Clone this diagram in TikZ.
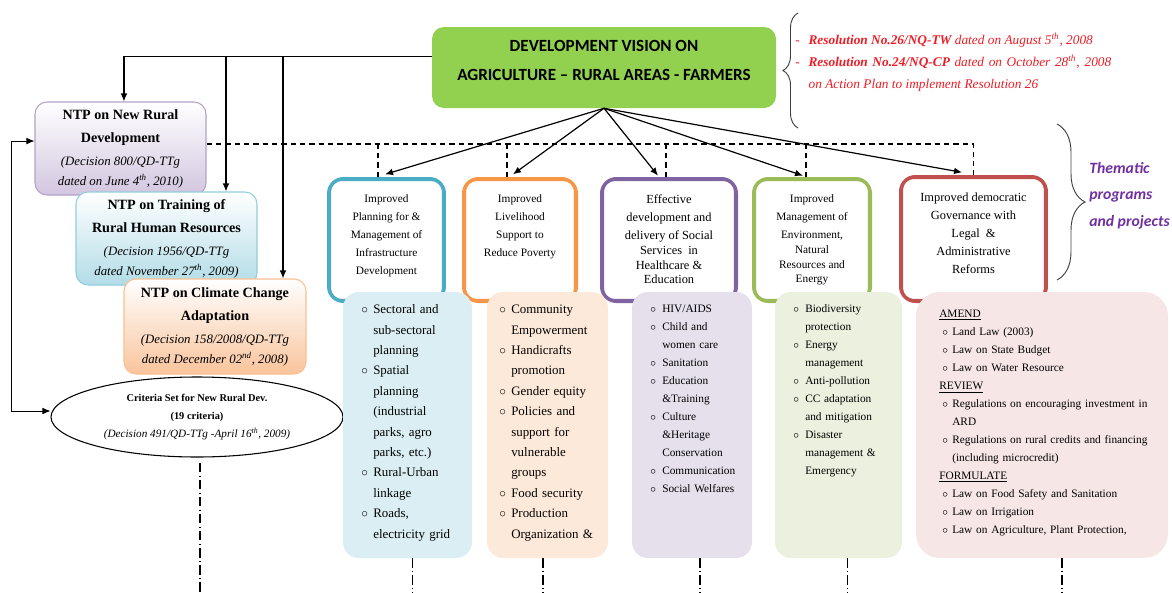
\documentclass[tikz,border=0pt]{standalone}
\usepackage{fontspec}
\setmainfont{Liberation Serif}
\newfontfamily\calibri{Carlito}
\usepackage{enumitem}
\usetikzlibrary{positioning,shapes.geometric,arrows.meta,decorations.pathreplacing}

\definecolor{visiongreen}{HTML}{92D050}
\definecolor{resred}{HTML}{EE1C25}
\definecolor{thempurple}{HTML}{7030A0}
\definecolor{infrablue}{HTML}{4BACC6}
\definecolor{liveorange}{HTML}{F79646}
\definecolor{socialpurple}{HTML}{8064A2}
\definecolor{envgreen}{HTML}{9BBB59}
\definecolor{govred}{HTML}{C0504D}
\definecolor{infrafill}{HTML}{DAEEF3}
\definecolor{livefill}{HTML}{FDE9D9}
\definecolor{socialfill}{HTML}{E5E0EC}
\definecolor{envfill}{HTML}{EBF1DE}
\definecolor{govfill}{HTML}{F7E6E6}
\definecolor{ruralline}{HTML}{B3A2C7}
\definecolor{ruralfill}{HTML}{D2C6E0}
\definecolor{trainline}{HTML}{92CDDC}
\definecolor{trainfill}{HTML}{B2DCE7}
\definecolor{climline}{HTML}{FAC090}
\definecolor{climfill}{HTML}{F9C49C}

\setlist[itemize]{nosep, label=$\circ$, leftmargin=9pt, labelwidth=5pt, labelsep=4pt, align=left}

\newcommand{\ntpnote}[1]{{\fontsize{9.6}{17.25}\selectfont\mdseries\itshape #1}}

\tikzset{
  ntpbox/.style 2 args={rounded corners=9pt, draw=#1, line width=0.8pt, top color=white, bottom color=#2,
    minimum height=69.75pt, align=center, inner sep=2pt, font=\fontsize{10.6}{17.25}\selectfont\bfseries},
  thembox/.style={rounded corners=11pt, draw=#1, line width=2.6pt, fill=white, minimum height=91.9pt},
  themtext/.style={anchor=north, align=center, inner sep=0pt, font=\fontsize{8.5}{13.5}\selectfont},
  bulbox/.style={rounded corners=12pt, fill=#1, minimum height=199.5pt},
  bultext/.style={anchor=north west, align=left, inner sep=0pt},
}

\begin{document}
\begin{tikzpicture}[x=0.75pt, y=-0.75pt,
    arr/.style={line width=0.9pt, -{Latex[length=6pt,width=5pt]}},
    dashline/.style={line width=0.9pt, dash pattern=on 4pt off 3pt},
    dashdot/.style={line width=0.8pt, dash pattern=on 7pt off 2.5pt on 0.8pt off 2.5pt},
    bracestyle/.style={draw=black!75, line width=0.7pt, decorate}]

  \useasboundingbox (0,0) rectangle (1172,593);

  % vision and resolutions
  \node[rounded corners=9pt, fill=visiongreen, minimum width=258pt, minimum height=60.75pt] (vision) at (604,67.5) {};
  \node[align=center, font=\calibri\bfseries\fontsize{12.8}{21.75}\selectfont] (visiontext) at (604,60)
    {DEVELOPMENT VISION ON\\AGRICULTURE – RURAL AREAS - FARMERS};

  \draw[bracestyle, decoration={brace, amplitude=11.25pt}] (798,128) -- (798,13);
  \node[anchor=north west, align=left, inner sep=0pt, text=resred,
        font=\fontsize{10}{16.5}\selectfont\itshape] (res) at (795,33)
    {\makebox[10pt][l]{-}\textbf{Resolution No.26/NQ-TW} dated on August 5\textsuperscript{th}, 2008\\
     \makebox[237pt][s]{\makebox[10pt][l]{-}\textbf{Resolution No.24/NQ-CP} dated on October 28\textsuperscript{th}, 2008}\\
     \hspace*{10pt}on Action Plan to implement Resolution 26};

  \draw[bracestyle, decoration={brace, amplitude=21pt}] (1057,124) -- (1057,280);
  \node[anchor=north west, align=left, inner sep=0pt, text=thempurple,
        font=\calibri\bfseries\itshape\fontsize{11.8}{20}\selectfont] (thematic) at (1089,162)
    {Thematic\\programs\\and projects};

  % national target programs
  \node[ntpbox={ruralline}{ruralfill}, minimum width=128.25pt] (ntp1) at (120.5,148.5)
    {NTP on New Rural\\ Development\\ \ntpnote{(Decision 800/QD-TTg}\\[-2.25pt]
     \ntpnote{dated on June 4\textsuperscript{th}, 2010)}};
  \node[ntpbox={trainline}{trainfill}, minimum width=135.75pt] (ntp2) at (166.5,238.5)
    {NTP on Training of\\ Rural Human Resources\\ \ntpnote{(Decision 1956/QD-TTg}\\[-2.25pt]
     \ntpnote{dated November 27\textsuperscript{th}, 2009)}};
  \node[ntpbox={climline}{climfill}, minimum width=136.5pt, minimum height=71.25pt] (ntp3) at (215,326.5)
    {NTP on Climate Change\\ Adaptation\\ \ntpnote{(Decision 158/2008/QD-TTg}\\[-2.25pt]
     \ntpnote{dated December 02\textsuperscript{nd}, 2008)}};

  \node[ellipse, draw, line width=0.8pt, fill=white, minimum width=219pt, minimum height=60pt,
        inner sep=0pt, align=center, font=\fontsize{7.8}{13.5}\selectfont] (crit) at (197,417)
    {\textbf{Criteria Set for New Rural Dev.}\\ \textbf{(19 criteria)}\\
     {\fontsize{8.4}{13.5}\selectfont\itshape (Decision 491/QD-TTg -April 16\textsuperscript{th}, 2009)}};

  % thematic boxes
  \node[thembox=infrablue, minimum width=86.6pt] (t1) at (386.5,240) {};
  \node[thembox=liveorange, minimum width=84.4pt] (t2) at (520,240) {};
  \node[thembox=socialpurple, minimum width=100.9pt] (t3) at (669,240) {};
  \node[thembox=envgreen, minimum width=87.4pt] (t4) at (812,240) {};
  \node[thembox=govred, minimum width=109.1pt, minimum height=93.4pt] (t5) at (973.5,239) {};

  \draw[infrablue, line width=0.7pt, rounded corners=8pt] ([shift={(2.7pt,-2.7pt)}]t1.north west) rectangle ([shift={(-2.7pt,2.7pt)}]t1.south east);
  \draw[liveorange, line width=0.7pt, rounded corners=8pt] ([shift={(2.7pt,-2.7pt)}]t2.north west) rectangle ([shift={(-2.7pt,2.7pt)}]t2.south east);
  \draw[socialpurple, line width=0.7pt, rounded corners=8pt] ([shift={(2.7pt,-2.7pt)}]t3.north west) rectangle ([shift={(-2.7pt,2.7pt)}]t3.south east);
  \draw[envgreen, line width=0.7pt, rounded corners=8pt] ([shift={(2.7pt,-2.7pt)}]t4.north west) rectangle ([shift={(-2.7pt,2.7pt)}]t4.south east);
  \draw[govred, line width=0.7pt, rounded corners=8pt] ([shift={(2.7pt,-2.7pt)}]t5.north west) rectangle ([shift={(-2.7pt,2.7pt)}]t5.south east);

  \node[themtext] (tt1) at ([yshift=-13.3pt]t1.north) {Improved\\Planning for \&\\Management of\\Infrastructure\\Development};
  \node[themtext] (tt2) at ([yshift=-13.3pt]t2.north) {Improved\\Livelihood\\Support to\\Reduce Poverty};
  \node[themtext, font=\fontsize{9.3}{13.5}\selectfont] (tt3) at ([yshift=-13.3pt]t3.north)
    {Effective\\development and\\delivery of Social\\[-2.5pt]Services\ \ in\\[-2.5pt]Healthcare \&\\[-2.5pt]Education};
  \node[themtext] (tt4) at ([yshift=-13.3pt]t4.north)
    {Improved\\Management of\\Environment,\\[-2.5pt]Natural\\[-2pt]Resources and\\[-3pt]Energy};
  \node[themtext, font=\fontsize{9.3}{13.5}\selectfont] (tt5) at ([yshift=-13.3pt]t5.north)
    {Improved democratic\\Governance with\\Legal\ \ \&\\Administrative\\Reforms};

  % activity boxes
  \node[bulbox=infrafill, minimum width=96.75pt] (b1) at (407.5,425) {};
  \node[bulbox=livefill, minimum width=90.75pt] (b2) at (547.5,425) {};
  \node[bulbox=socialfill, minimum width=90pt] (b3) at (692,425) {};
  \node[bulbox=envfill, minimum width=95.25pt] (b4) at (838.5,425) {};
  \node[bulbox=govfill, minimum width=189pt, rounded corners=18pt] (b5) at (1042,425) {};

  \node[bultext, text width=82pt, font=\fontsize{9.7}{15.3}\selectfont] (l1) at (361,293) {%
    \begin{itemize}
      \item Sectoral and\newline sub-sectoral\newline planning
      \item Spatial\newline planning\newline (industrial\newline parks, agro\newline parks, etc.)
      \item Rural-Urban\newline linkage
      \item Roads,\newline electricity grid
    \end{itemize}};
  \node[bultext, text width=82pt, font=\fontsize{9.7}{15.3}\selectfont] (l2) at (499,293) {%
    \begin{itemize}
      \item Community\newline Empowerment
      \item Handicrafts\newline promotion
      \item Gender equity
      \item Policies and\newline support for\newline vulnerable\newline groups
      \item Food security
      \item Production\newline Organization \&
    \end{itemize}};
  \node[bultext, text width=80pt, font=\fontsize{8.5}{13.5}\selectfont] (l3) at (650,294) {%
    \begin{itemize}
      \item HIV/AIDS
      \item Child and\newline women care
      \item Sanitation
      \item Education\newline \&Training
      \item Culture\newline \&Heritage\newline Conservation
      \item Communication
      \item Social Welfares
    \end{itemize}};
  \node[bultext, text width=80pt, font=\fontsize{8.5}{13.5}\selectfont] (l4) at (793,294) {%
    \begin{itemize}
      \item Biodiversity\newline protection
      \item Energy\newline management
      \item Anti-pollution
      \item CC adaptation\newline and mitigation
      \item Disaster\newline management \&\newline Emergency
    \end{itemize}};
  \node[bultext, text width=165pt, font=\fontsize{8.5}{13.5}\selectfont] (l5) at (939,310) {%
    \underline{AMEND}
    \begin{itemize}[leftmargin=9.75pt, labelsep=2.5pt]
      \item Land Law (2003)
      \item Law on State Budget
      \item Law on Water Resource
    \end{itemize}
    \underline{REVIEW}
    \begin{itemize}[leftmargin=9.75pt, labelsep=2.5pt]
      \item Regulations on encouraging investment in\newline ARD
      \item Regulations on rural credits and financing\newline (including microcredit)
    \end{itemize}
    \underline{FORMULATE}
    \begin{itemize}[leftmargin=9.75pt, labelsep=2.5pt]
      \item Law on Food Safety and Sanitation
      \item Law on Irrigation
      \item Law on Agriculture, Plant Protection,
    \end{itemize}};

  % connectors
  \coordinate (top) at ([yshift=8pt]vision.west);
  \coordinate (dash) at ([yshift=3.4pt]ntp1.east);
  \coordinate (bot) at (0,593);

  \draw[arr] (top) -| ([xshift=2.6pt]ntp1.north);
  \draw[arr] (top) -| ([xshift=44.6pt]ntp2.north);
  \draw[arr] (top) -| ([xshift=51pt]ntp3.north);

  \draw[line width=0.6pt, {Latex[length=6pt,width=5pt]}-{Latex[length=6pt,width=5pt]}]
    ([yshift=5.6pt]ntp1.west) -- ++(-17pt,0) |- ([yshift=4.5pt]crit.west);

  \draw[dashline] (dash) -| (t5.north);
  \draw[dashline] ([xshift=-6.4pt]t1.north) -- ([xshift=-6.4pt]t1.north |- dash);
  \draw[dashline] ([xshift=-9.75pt]t2.north) -- ([xshift=-9.75pt]t2.north |- dash);
  \draw[dashline] ([xshift=-2.25pt]t3.north) -- ([xshift=-2.25pt]t3.north |- dash);
  \draw[dashline] ([xshift=-4.5pt]t4.north) -- ([xshift=-4.5pt]t4.north |- dash);

  \draw[arr] (vision.south) -- ([xshift=-1.1pt,yshift=2pt]t1.north);
  \draw[arr] (vision.south) -- ([xshift=-5.25pt,yshift=2pt]t2.north);
  \draw[arr] (vision.south) -- ([xshift=-8.25pt,yshift=1pt]t3.north);
  \draw[arr] (vision.south) -- ([xshift=-6.75pt,yshift=1pt]t4.north);
  \draw[arr] (vision.south) -- ([xshift=-8.6pt,yshift=2pt]t5.north);

  \draw[dashdot] ([xshift=2.25pt,yshift=-4pt]crit.south) -- ([xshift=2.25pt]crit.south |- bot);
  \draw[dashdot] ([xshift=3.4pt]b1.south) -- ([xshift=3.4pt]b1.south |- bot);
  \draw[dashdot] ([xshift=-3.4pt]b2.south) -- ([xshift=-3.4pt]b2.south |- bot);
  \draw[dashdot] ([xshift=6pt]b3.south) -- ([xshift=6pt]b3.south |- bot);
  \draw[dashdot] ([xshift=6.4pt]b4.south) -- ([xshift=6.4pt]b4.south |- bot);
  \draw[dashdot] ([xshift=15pt]b5.south) -- ([xshift=15pt]b5.south |- bot);

\end{tikzpicture}
\end{document}
